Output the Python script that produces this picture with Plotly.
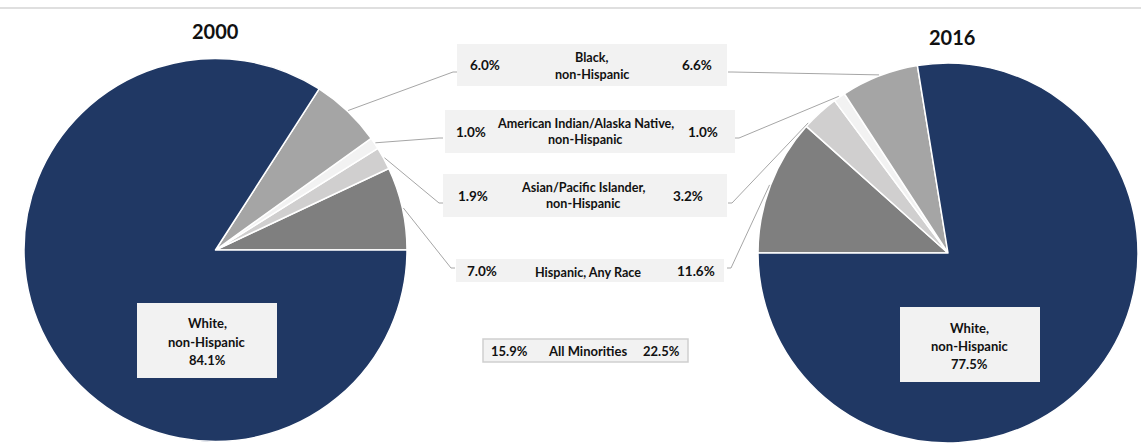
import math
import plotly.graph_objects as go

# Population shares by race/ethnicity (percent)
categories = [
    "Hispanic, Any Race",
    "Asian/Pacific Islander, non-Hispanic",
    "American Indian/Alaska Native, non-Hispanic",
    "Black, non-Hispanic",
    "White, non-Hispanic",
]
box_labels = [
    ["Hispanic, Any Race"],
    ["Asian/Pacific Islander,", "non-Hispanic"],
    ["American Indian/Alaska Native,", "non-Hispanic"],
    ["Black,", "non-Hispanic"],
]
years = ["2000", "2016"]
share_2000 = [7.0, 1.9, 1.0, 6.0, 84.1]
share_2016 = [11.6, 3.2, 1.0, 6.6, 77.5]
all_minorities = [15.9, 22.5]

slice_colors = ["#7f7f7f", "#d0cfcf", "#f2f2f2", "#a5a5a5", "#203864"]

W, H = 1141, 445
FONT = "Lato"
TXT = "#111111"
LINE = "#a6a6a6"
BOX = "#f2f2f2"


def px(x):
    return x / W


def py(y):
    return 1 - y / H


# pie geometry in pixels: centre and radius
left_c, left_r = (215.5, 250.0), 191.5
right_c, right_r = (948.0, 253.0), 190.0


def domain(c, r):
    return dict(x=[px(c[0] - r), px(c[0] + r)], y=[py(c[1] + r), py(c[1] - r)])


# counterclockwise pies anchor the far edge of the first slice at `rotation`,
# so shift by the first slice's sweep to start it at 3 o'clock
left_rotation = 90 - 360 * share_2000[0] / sum(share_2000)

fig = go.Figure()
fig.add_trace(go.Pie(
    labels=categories, values=share_2000, sort=False,
    direction="counterclockwise", rotation=left_rotation,
    marker=dict(colors=slice_colors, line=dict(color="white", width=1.5)),
    textinfo="none", hoverinfo="label+value", showlegend=False,
    domain=domain(left_c, left_r),
))
fig.add_trace(go.Pie(
    labels=categories, values=share_2016, sort=False,
    direction="clockwise", rotation=-90,
    marker=dict(colors=slice_colors, line=dict(color="white", width=1.5)),
    textinfo="none", hoverinfo="label+value", showlegend=False,
    domain=domain(right_c, right_r),
))

shapes = []
annotations = []


def text(x, y, s, size=13.5, color=TXT):
    annotations.append(dict(
        x=px(x), y=py(y), xref="paper", yref="paper", showarrow=False,
        text=f"<b>{s}</b>", font=dict(family=FONT, size=size, color=color),
        xanchor="center", yanchor="middle",
    ))


def rect(x0, y0, x1, y1, fill=BOX, line=None):
    shapes.append(dict(
        type="rect", xref="paper", yref="paper",
        x0=px(x0), x1=px(x1), y0=py(y1), y1=py(y0),
        fillcolor=fill,
        line=dict(color=line or fill, width=1.5 if line else 0),
        layer="above",
    ))


# top rule
shapes.append(dict(type="line", xref="paper", yref="paper",
                   x0=0, x1=1, y0=py(8), y1=py(8),
                   line=dict(color="#bfbfbf", width=1.2)))

# year titles
text(215, 31.5, years[0], size=20)
text(952, 36.5, years[1], size=20)

# middle label boxes (rows listed per category, same order as the slices)
rows = [
    # box x0, x1, y0, y1, left pct x, label x, right pct x, label line ys
    dict(b=(456, 724, 259, 282), lp=482, lc=588, rp=696, ly=[272]),
    dict(b=(443, 727, 174, 217), lp=473, lc=583, rp=688, ly=[188, 204]),
    dict(b=(445, 735, 110, 153), lp=471, lc=585, rp=703, ly=[123, 139]),
    dict(b=(457, 727, 44, 86), lp=485, lc=592, rp=697, ly=[57, 74]),
]
for i, row in enumerate(rows):
    x0, x1, y0, y1 = row["b"]
    rect(x0, y0, x1, y1)
    ymid = (y0 + y1) / 2
    text(row["lp"], ymid, f"{share_2000[i]:.1f}%")
    text(row["rp"], ymid, f"{share_2016[i]:.1f}%")
    for s, yy in zip(box_labels[i], row["ly"]):
        text(row["lc"], yy, s, size=12.6)

# all minorities box
rect(483, 339, 688, 362, line="#cfcfcf")
text(509, 351, f"{all_minorities[0]:.1f}%", size=13)
text(587, 351, "All Minorities", size=13)
text(662, 351, f"{all_minorities[1]:.1f}%", size=13)

# white slice labels
rect(137, 303, 277, 378)
for s, yy in zip(["White,", "non-Hispanic", f"{share_2000[4]:.1f}%"], [323, 342, 360]):
    text(207, yy, s, size=13)
rect(900, 307, 1040, 382)
for s, yy in zip(["White,", "non-Hispanic", f"{share_2016[4]:.1f}%"], [328, 346, 364]):
    text(970, yy, s, size=13)


# leader lines from the boxes to the slices
def slice_point(values, idx, c, r, start_deg, sign, frac=0.5):
    total = sum(values)
    cum = sum(values[:idx]) + values[idx] * frac
    theta = math.radians(start_deg + sign * 360 * cum / total)
    return c[0] + r * math.cos(theta), c[1] - r * math.sin(theta)


left_box_pts = [(455, 268), (443, 203), (443, 138), (457, 72)]
right_box_pts = [(727, 268), (728, 203), (735, 138), (728, 72)]
right_frac = [0.5, 0.1, 0.5, 0.5]

for i in range(4):
    bx, by = left_box_pts[i]
    sx, sy = slice_point(share_2000, i, left_c, left_r + 1, 0, 1)
    shapes.append(dict(type="path", xref="paper", yref="paper",
                       path=f"M {px(bx)} {py(by)} L {px(bx - 4)} {py(by)} L {px(sx)} {py(sy)}",
                       line=dict(color=LINE, width=1)))
    bx, by = right_box_pts[i]
    sx, sy = slice_point(share_2016, i, right_c, right_r + 1, 180, -1, right_frac[i])
    shapes.append(dict(type="path", xref="paper", yref="paper",
                       path=f"M {px(bx)} {py(by)} L {px(bx + 4)} {py(by)} L {px(sx)} {py(sy)}",
                       line=dict(color=LINE, width=1)))

fig.update_layout(
    width=W, height=H,
    margin=dict(l=0, r=0, t=0, b=0),
    paper_bgcolor="white", plot_bgcolor="white",
    shapes=shapes, annotations=annotations,
    font=dict(family=FONT),
)

fig.write_html("out.html")
